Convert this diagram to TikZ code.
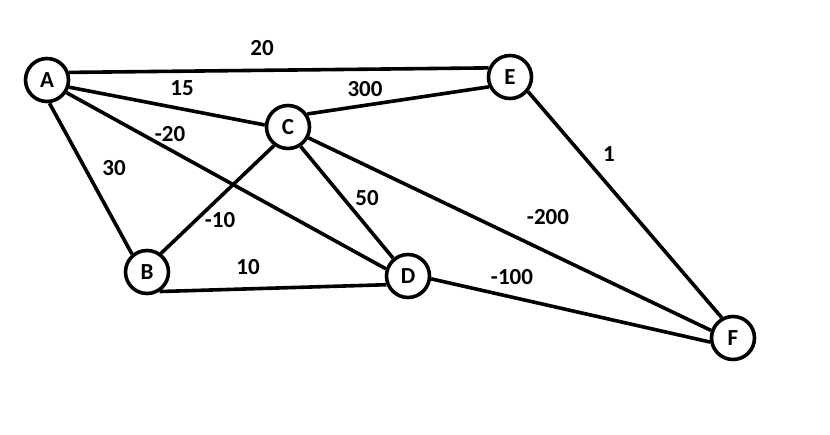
\documentclass[tikz,border=0pt]{standalone}
\usepackage{fontspec}
\setmainfont{Carlito}
\begin{document}
\begin{tikzpicture}[x=1pt,y=-1pt,
  vert/.style={circle,draw,line width=3.6pt,minimum size=43pt,inner sep=0pt,fill=white,font=\fontsize{23}{26}\selectfont\bfseries},
  edge/.style={line width=3.6pt},
  wt/.style={font=\fontsize{23}{26}\selectfont\bfseries,inner sep=0pt}]
\useasboundingbox (0,0) rectangle (830,435);
\node[vert] (A) at (47,80) {A};
\node[vert] (E) at (510,77) {E};
\node[vert] (C) at (288,127) {C};
\node[vert] (B) at (147,272) {B};
\node[vert] (D) at (408,276) {D};
\node[vert] (F) at (733,338) {F};
\draw[edge] (A.19) -- (E.157);
\draw[edge] (C.34) -- (E.205);
\draw[edge] (A.-18) -- (C.175);
\draw[edge] (A.-33) -- (D.162);
\draw[edge] (A.-84) -- (B.130);
\draw[edge] (B.53) -- (C.233);
\draw[edge] (B.-57) -- (D.202);
\draw[edge] (C.-57) -- (D.130);
\draw[edge] (C.-28) -- (F.161);
\draw[edge] (D.-7) -- (F.190);
\draw[edge] (E.-39) -- (F.119);
\node[wt] (w1) at (262,48) {20};
\node[wt] (w2) at (182,88) {15};
\node[wt] (w3) at (170,134) {-20};
\node[wt] (w4) at (365,89) {300};
\node[wt] (w5) at (114,168) {30};
\node[wt] (w6) at (220,220) {-10};
\node[wt] (w7) at (367,198) {50};
\node[wt] (w8) at (248,267) {10};
\node[wt] (w9) at (609,154) {1};
\node[wt] (w10) at (548,217) {-200};
\node[wt] (w11) at (512,277) {-100};
\end{tikzpicture}
\end{document}
